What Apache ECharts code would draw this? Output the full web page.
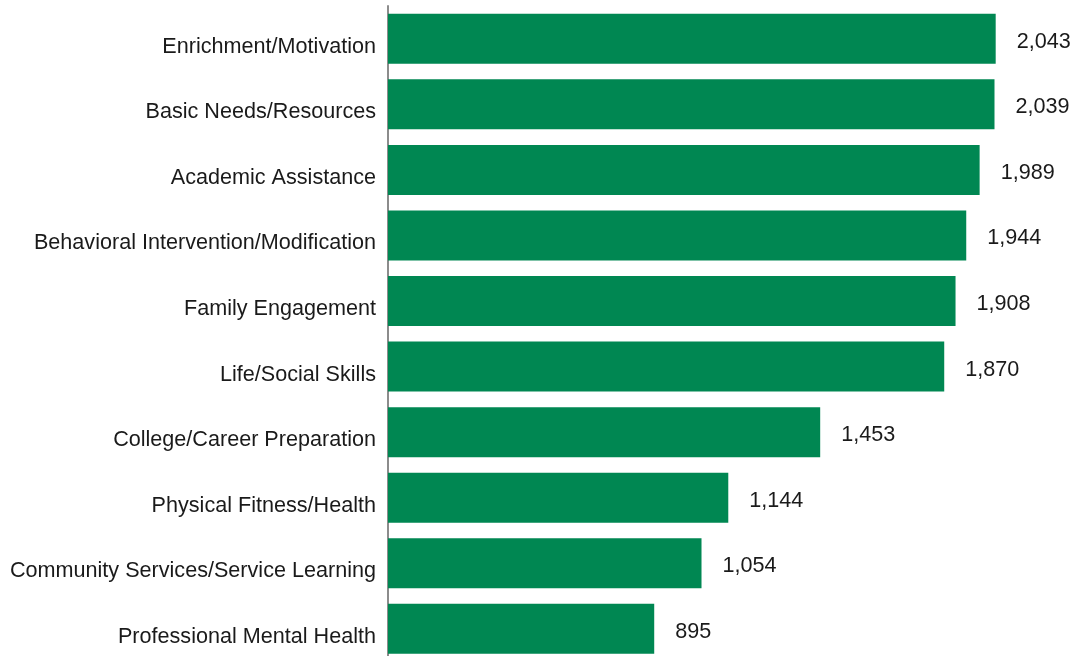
<!DOCTYPE html>
<html>
<head>
<meta charset="utf-8">
<script src="https://cdn.jsdelivr.net/npm/echarts@6/dist/echarts.min.js"></script>
<style>
html,body{margin:0;padding:0;background:#fff;overflow:hidden;}
#c{width:1076px;height:662px;}
</style>
</head>
<body>
<div id="c"></div>
<script>
const categories = [
  "Enrichment/Motivation",
  "Basic Needs/Resources",
  "Academic Assistance",
  "Behavioral Intervention/Modification",
  "Family Engagement",
  "Life/Social Skills",
  "College/Career Preparation",
  "Physical Fitness/Health",
  "Community Services/Service Learning",
  "Professional Mental Health"
];
const values = [2043, 2039, 1989, 1944, 1908, 1870, 1453, 1144, 1054, 895];

const FONT = '"Liberation Sans", Arial, Helvetica, sans-serif';
const catTxt = {color: '#1a1a1a', fontSize: 21.6, fontFamily: FONT, padding: [16, 0, 0, 0]};
const valTxt = {color: '#1a1a1a', fontSize: 21.6, fontFamily: FONT, padding: [6, 0, 0, 0]};
const chart = echarts.init(document.getElementById('c'), null, {renderer: 'canvas'});
chart.setOption({
  animation: false,
  backgroundColor: '#ffffff',
  grid: {left: 388, top: 6, right: 0, bottom: 0.4, containLabel: false},
  xAxis: {
    type: 'value', min: 0, max: 2313, show: false
  },
  yAxis: {
    type: 'category',
    data: categories,
    inverse: true,
    axisLine: {show: true, lineStyle: {color: '#8c8c8c', width: 2}},
    axisTick: {show: false},
    axisLabel: {
      margin: 12,
      formatter: v => '{t|' + v + '}',
      rich: {t: catTxt}
    }
  },
  series: [{
    type: 'bar',
    data: values,
    barCategoryGap: '23.7%',
    itemStyle: {color: '#008752'},
    label: {
      show: true, position: 'right', distance: 21,
      formatter: p => '{t|' + p.value.toLocaleString('en-US') + '}',
      rich: {t: valTxt}
    }
  }]
});
</script>
</body>
</html>
